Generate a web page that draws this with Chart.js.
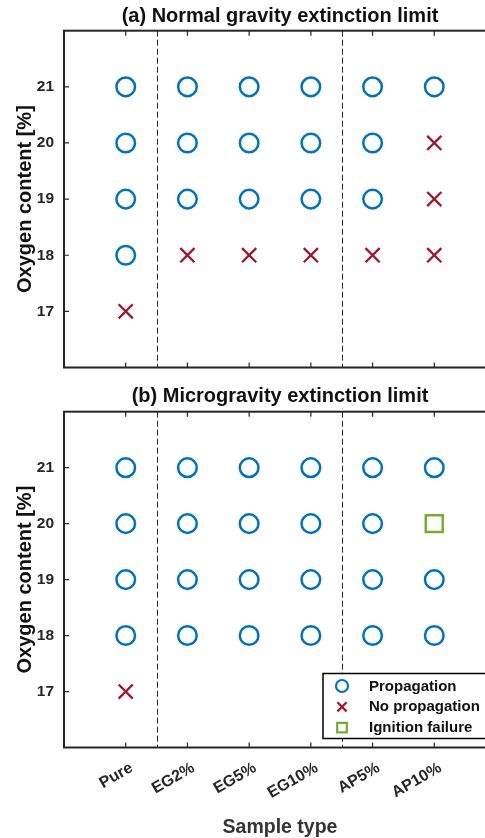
<!DOCTYPE html>
<html>
<head>
<meta charset="utf-8">
<script src="https://cdn.jsdelivr.net/npm/chart.js@4.4.1/dist/chart.umd.min.js"></script>
<style>
  html, body { margin: 0; padding: 0; background: #fff; width: 485px; height: 838px; overflow: hidden; }
  .panel { position: absolute; left: 0; width: 500px; }
  #panelA { top: 0; height: 380px; }
  #panelB { top: 380px; height: 458px; }
</style>
</head>
<body>
<div class="panel" id="panelA"><canvas id="chartA" width="500" height="380"></canvas></div>
<div class="panel" id="panelB"><canvas id="chartB" width="500" height="458"></canvas></div>
<script>
// Catégories et niveaux d'oxygène testés
const categories = ['Pure', 'EG2%', 'EG5%', 'EG10%', 'AP5%', 'AP10%'];
const yTicks = [17, 18, 19, 20, 21];

// (a) gravité normale : oxygène [%] par catégorie
const normalPropagation = [[21, 20, 19, 18], [21, 20, 19], [21, 20, 19], [21, 20, 19], [21, 20, 19], [21]];
const normalNoPropagation = [[17], [18], [18], [18], [18], [20, 19, 18]];
const normalIgnitionFailure = [[], [], [], [], [], []];

// (b) microgravité
const microPropagation = [[21, 20, 19, 18], [21, 20, 19, 18], [21, 20, 19, 18], [21, 20, 19, 18], [21, 20, 19, 18], [21, 19, 18]];
const microNoPropagation = [[17], [], [], [], [], []];
const microIgnitionFailure = [[], [], [], [], [], [20]];

// séparations entre groupes
const groupSeparators = [1.5, 4.5];

const FONT = '"Liberation Sans", Arial, Helvetica, sans-serif';
const AXIS_COLOR = '#262626';
const BLUE = '#0072BD', RED = '#A2142F', GREEN = '#77AC30';

function toPoints(byCategory) {
    const pts = [];
    byCategory.forEach((levels, i) => levels.forEach(y => pts.push({ x: i + 1, y: y })));
    return pts;
}

// cadre, ticks vers l'intérieur, lignes pointillées
const framePlugin = {
    id: 'frame',
    afterDatasetsDraw(chart) {
        const { ctx, chartArea: a, scales } = chart;
        ctx.save();
        ctx.strokeStyle = AXIS_COLOR;
        ctx.lineWidth = 1;
        ctx.setLineDash([6, 3]);
        groupSeparators.forEach(v => {
            const px = Math.round(scales.x.getPixelForValue(v)) + 0.5;
            ctx.beginPath();
            ctx.moveTo(px, a.top);
            ctx.lineTo(px, a.bottom);
            ctx.stroke();
        });
        ctx.setLineDash([]);
        ctx.lineWidth = 1.2;
        const tl = 5;
        categories.forEach((c, i) => {
            const px = scales.x.getPixelForValue(i + 1);
            ctx.beginPath();
            ctx.moveTo(px, a.bottom); ctx.lineTo(px, a.bottom - tl);
            ctx.moveTo(px, a.top); ctx.lineTo(px, a.top + tl);
            ctx.stroke();
        });
        yTicks.forEach(v => {
            const py = scales.y.getPixelForValue(v);
            ctx.beginPath();
            ctx.moveTo(a.left, py); ctx.lineTo(a.left + tl, py);
            ctx.moveTo(a.right, py); ctx.lineTo(a.right - tl, py);
            ctx.stroke();
        });
        ctx.lineWidth = 2;
        ctx.strokeRect(a.left, a.top, a.right - a.left, a.bottom - a.top);
        ctx.restore();
    }
};

// légende à l'intérieur (coin inférieur droit)
const insideLegend = {
    id: 'insideLegend',
    afterDraw(chart, args, opts) {
        if (!opts.show) return;
        const { ctx, chartArea: a } = chart;
        const w = 166, h = 65;
        const x0 = a.right - 7 - w, y0 = a.bottom - 9 - h;
        ctx.save();
        ctx.fillStyle = '#fff';
        ctx.fillRect(x0, y0, w, h);
        ctx.strokeStyle = '#000';
        ctx.lineWidth = 1.5;
        ctx.strokeRect(x0, y0, w, h);
        chart.data.datasets.forEach((ds, i) => {
            const cy = y0 + 12.5 + i * 20.8;
            const cx = x0 + 19;
            ctx.strokeStyle = ds.borderColor;
            ctx.fillStyle = 'rgba(0,0,0,0)';
            ctx.lineWidth = 2.2;
            Chart.helpers.drawPoint(ctx, { pointStyle: ds.pointStyle, radius: opts.radius[i], borderWidth: 2.2, rotation: 0 }, cx, cy);
            ctx.fillStyle = '#111';
            ctx.font = 'bold 15px ' + FONT;
            ctx.textBaseline = 'middle';
            ctx.textAlign = 'left';
            ctx.fillText(ds.label, x0 + 46, cy + 0.5);
        });
        ctx.restore();
    }
};

function makeChart(canvasId, title, prop, noProp, ignFail, isBottom) {
    const ctx = document.getElementById(canvasId).getContext('2d');
    return new Chart(ctx, {
        type: 'scatter',
        data: {
            datasets: [{
                label: 'Propagation',
                data: toPoints(prop),
                pointStyle: 'circle',
                pointRadius: 9.3,
                borderColor: BLUE,
                backgroundColor: 'rgba(0,0,0,0)',
                borderWidth: 2.5
            }, {
                label: 'No propagation',
                data: toPoints(noProp),
                pointStyle: 'crossRot',
                pointRadius: 10,
                borderColor: RED,
                backgroundColor: RED,
                borderWidth: 2.3
            }, {
                label: 'Ignition failure',
                data: toPoints(ignFail),
                pointStyle: 'rect',
                pointRadius: 12,
                borderColor: GREEN,
                backgroundColor: 'rgba(0,0,0,0)',
                borderWidth: 2.5
            }]
        },
        options: {
            responsive: false,
            animation: false,
            layout: { autoPadding: false, padding: { left: 0, right: 4, top: 0, bottom: 0 } },
            plugins: {
                legend: { display: false },
                tooltip: { enabled: false },
                insideLegend: { show: isBottom, radius: [6, 6.5, 6.8] }
            },
            scales: {
                // axe du haut : porte le titre du panneau, centré sur la zone du graphique
                top: {
                    type: 'linear',
                    position: 'top',
                    min: 0,
                    max: 7,
                    afterFit: s => { s.height = isBottom ? 31.7 : 30.7; s.paddingLeft = 0; s.paddingRight = 0; },
                    grid: { display: false, drawTicks: false },
                    border: { display: false },
                    ticks: { display: false },
                    title: {
                        display: true,
                        text: title,
                        color: '#111',
                        font: { family: FONT, size: 20, weight: 'bold', lineHeight: 1.2 },
                        padding: { top: 4, bottom: 0 }
                    }
                },
                x: {
                    type: 'linear',
                    min: 0,
                    max: 7,
                    afterFit: s => { s.height = isBottom ? 90.5 : 12.5; s.paddingLeft = 0; s.paddingRight = 0; },
                    grid: { display: false, drawTicks: false },
                    border: { display: false },
                    ticks: {
                        display: isBottom,
                        stepSize: 1,
                        autoSkip: false,
                        minRotation: 30,
                        maxRotation: 30,
                        padding: 11,
                        labelOffset: 6,
                        color: AXIS_COLOR,
                        font: { family: FONT, size: 16, weight: 'bold' },
                        callback: v => categories[v - 1] || ''
                    },
                    title: {
                        display: isBottom,
                        text: 'Sample type',
                        color: '#333',
                        font: { family: FONT, size: 19.5, weight: 'bold', lineHeight: 1.1 },
                        padding: { top: 0, bottom: 0 }
                    }
                },
                y: {
                    min: 16,
                    max: 22,
                    afterFit: s => { s.width = 64; s.paddingTop = 0; s.paddingBottom = 0; },
                    grid: { display: false, drawTicks: false },
                    border: { display: false },
                    ticks: {
                        stepSize: 1,
                        padding: 10,
                        color: AXIS_COLOR,
                        font: { family: FONT, size: 15.5, weight: 'bold' },
                        callback: v => yTicks.includes(v) ? String(v) : ''
                    },
                    title: {
                        display: true,
                        text: 'Oxygen content [%]',
                        color: '#111',
                        font: { family: FONT, size: 20, weight: 'bold', lineHeight: 1.2 },
                        padding: { top: 13, bottom: 0 }
                    }
                }
            }
        },
        plugins: [framePlugin, insideLegend]
    });
}

makeChart('chartA', '(a) Normal gravity extinction limit', normalPropagation, normalNoPropagation, normalIgnitionFailure, false);
makeChart('chartB', '(b) Microgravity extinction limit', microPropagation, microNoPropagation, microIgnitionFailure, true);
</script>
</body>
</html>
